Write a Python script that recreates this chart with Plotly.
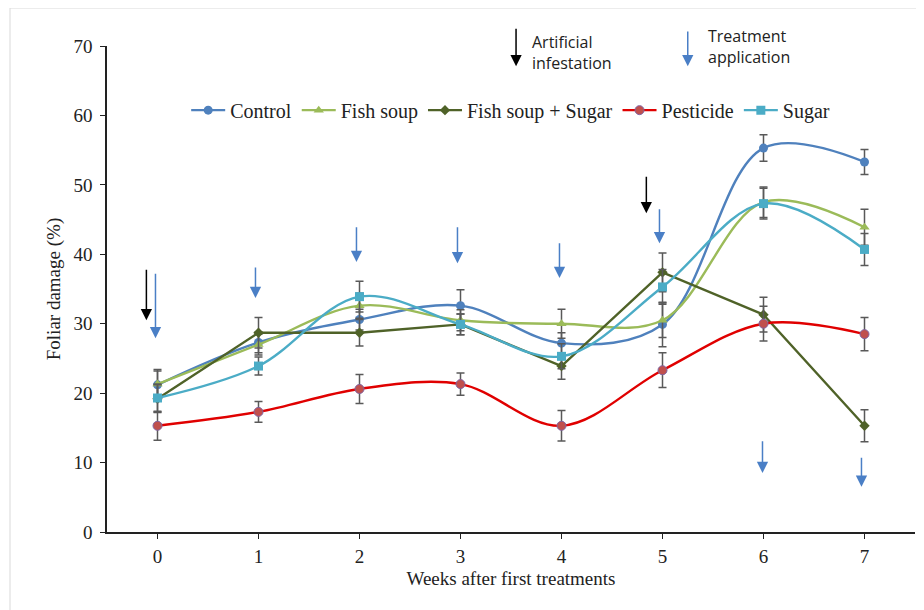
import plotly.graph_objects as go

weeks = [0, 1, 2, 3, 4, 5, 6, 7]

control = [21.2, 27.3, 30.6, 32.6, 27.2, 29.9, 55.3, 53.3]
fish_soup = [21.3, 27.0, 32.6, 30.5, 30.0, 30.5, 47.5, 43.9]
fish_sugar = [19.2, 28.7, 28.7, 29.9, 23.9, 37.4, 31.3, 15.3]
pesticide = [15.3, 17.3, 20.6, 21.3, 15.3, 23.3, 30.0, 28.5]
sugar = [19.3, 23.9, 33.9, 29.9, 25.3, 35.3, 47.3, 40.7]

err_control = [2.0, 1.5, 1.5, 2.3, 1.5, 3.2, 1.9, 1.8]
err_fish_soup = [2.1, 1.5, 1.8, 1.5, 2.1, 2.5, 2.2, 2.6]
err_fish_sugar = [2.0, 2.2, 1.9, 1.5, 1.9, 2.8, 2.5, 2.3]
err_pesticide = [2.1, 1.5, 2.1, 1.6, 2.2, 2.5, 2.5, 2.4]
err_sugar = [2.0, 1.3, 2.2, 1.5, 1.8, 2.5, 2.2, 2.3]

# treatment application arrows (x, tail y, tip y)
treat_arrows = [(-0.02, 37.4, 27.9), (0.97, 38.3, 33.7), (1.97, 44.1, 38.9),
                (2.97, 44.1, 38.7), (3.98, 41.8, 36.6), (4.97, 46.7, 41.6),
                (5.99, 13.3, 8.5), (6.97, 10.9, 6.5)]
# artificial infestation arrows
infest_arrows = [(-0.11, 38.0, 30.5), (4.84, 51.4, 45.9)]

SERIF = "Liberation Serif, Times New Roman, serif"
SANS = "Open Sans, Liberation Sans, sans-serif"
BLUE_ARROW = "#4A7FC6"

series = [
    ("Control", control, err_control, "#4F81BD", dict(symbol="circle", size=9, color="#4F81BD"), "spline"),
    ("Fish soup", fish_soup, err_fish_soup, "#9BBB59", dict(symbol="triangle-up", size=9, color="#9BBB59"), "spline"),
    ("Fish soup + Sugar", fish_sugar, err_fish_sugar, "#4F6228", dict(symbol="diamond", size=8, color="#4F6228"), "linear"),
    ("Pesticide", pesticide, err_pesticide, "#E00000", dict(symbol="circle", size=9, color="#C0504D", line=dict(color="#8064A2", width=1)), "spline"),
    ("Sugar", sugar, err_sugar, "#4BACC6", dict(symbol="square", size=9, color="#4BACC6"), "spline"),
]

fig = go.Figure()
for name, vals, errs, col, mk, shape in series:
    fig.add_trace(go.Scatter(
        x=weeks, y=vals, name=name, mode="lines+markers",
        line=dict(color=col, width=2.4, shape=shape, smoothing=1.0),
        marker=mk,
        error_y=dict(type="data", array=errs, visible=True, color="#595959", thickness=1.5, width=4),
    ))

annotations = []
for x, y0, y1 in treat_arrows:
    annotations.append(dict(x=x, y=y1, ax=x, ay=y0, xref="x", yref="y", axref="x", ayref="y",
                            showarrow=True, arrowhead=2, arrowsize=1.5, arrowwidth=1.5,
                            arrowcolor=BLUE_ARROW, standoff=0, text=""))
for x, y0, y1 in infest_arrows:
    annotations.append(dict(x=x, y=y1, ax=x, ay=y0, xref="x", yref="y", axref="x", ayref="y",
                            showarrow=True, arrowhead=2, arrowsize=1.5, arrowwidth=1.5,
                            arrowcolor="black", standoff=0, text=""))
# key arrows above the plot
annotations.append(dict(x=3.55, y=67.1, ax=3.55, ay=72.7, xref="x", yref="y", axref="x", ayref="y",
                        showarrow=True, arrowhead=2, arrowsize=1.5, arrowwidth=1.5,
                        arrowcolor="black", standoff=0, text=""))
annotations.append(dict(x=5.25, y=67.1, ax=5.25, ay=72.3, xref="x", yref="y", axref="x", ayref="y",
                        showarrow=True, arrowhead=2, arrowsize=1.5, arrowwidth=1.5,
                        arrowcolor=BLUE_ARROW, standoff=0, text=""))
annotations.append(dict(x=(530 - 107) / 808, y=(532 - 52) / 486, xref="paper", yref="paper",
                        showarrow=False, xanchor="left", yanchor="middle", align="left",
                        text="Artificial<br>infestation", font=dict(family=SANS, size=16, color="#222")))
annotations.append(dict(x=(706 - 107) / 808, y=(532 - 46) / 486, xref="paper", yref="paper",
                        showarrow=False, xanchor="left", yanchor="middle", align="left",
                        text="Treatment<br>application", font=dict(family=SANS, size=16, color="#222")))

fig.update_layout(
    width=916, height=602,
    margin=dict(l=99, r=9, t=38, b=78),
    paper_bgcolor="white", plot_bgcolor="white",
    font=dict(family=SERIF, size=20, color="#222"),
    showlegend=True,
    legend=dict(orientation="h", x=0.098, y=0.868, xanchor="left", yanchor="middle",
                font=dict(family=SERIF, size=20, color="#222"), bgcolor="rgba(0,0,0,0)",
                itemwidth=34, tracegroupgap=0),
    xaxis=dict(range=[-0.5, 7.5], tickvals=weeks, ticktext=[str(w) for w in weeks],
               showline=True, linecolor="#222", linewidth=1.5, ticks="outside", ticklen=5,
               tickcolor="#222", showgrid=False, zeroline=False, ticklabelstandoff=1,
               tickfont=dict(family=SERIF, size=19),
               title=dict(text="Weeks after first treatments", font=dict(family=SERIF, size=19), standoff=6)),
    yaxis=dict(range=[0, 70], dtick=10, showline=True, linecolor="#222", linewidth=1.5,
               ticks="outside", ticklen=5, tickcolor="#222", showgrid=False, zeroline=False,
               ticklabelstandoff=4, tickfont=dict(family=SERIF, size=19),
               title=dict(text="Foliar damage (%)", font=dict(family=SERIF, size=19), standoff=8)),
    annotations=annotations,
    shapes=[dict(type="rect", xref="paper", yref="paper",
                 x0=(10 - 107) / 808, x1=(921 - 107) / 808,
                 y0=(532 - 640) / 486, y1=(532 - 8) / 486,
                 line=dict(color="#D9D9D9", width=1), layer="below")],
)

fig.write_html("out.html")
